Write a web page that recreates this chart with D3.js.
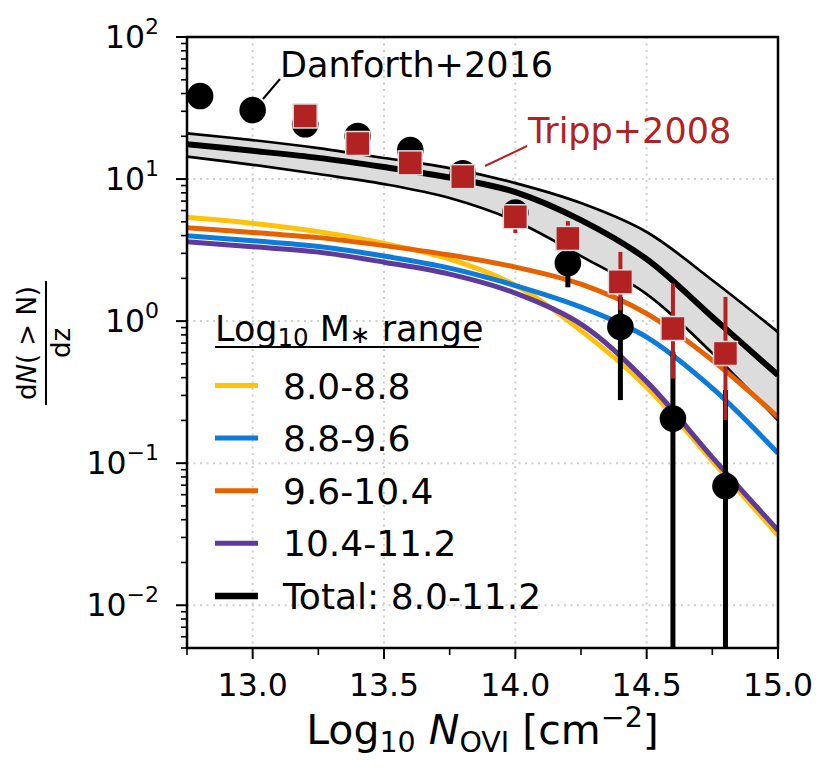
<!DOCTYPE html>
<html>
<head>
<meta charset="utf-8">
<script src="https://cdn.jsdelivr.net/npm/d3@7"></script>
<style>
  body { margin: 0; background: #fff; }
  svg text { font-family: "DejaVu Sans", sans-serif; }
</style>
</head>
<body>
<svg id="chart" width="831" height="770"></svg>
<script>
// ---- data ----
var modelX      = [12.75, 13.0, 13.25, 13.5, 13.75, 14.0, 14.25, 14.5, 14.75, 15.0];
var totalY      = [17.6, 15.8, 14.1, 12.15, 10.25, 8.10, 5.14, 2.73, 1.07, 0.417];
var totalHi     = [21.0, 18.8, 16.5, 14.06, 11.95, 9.37, 6.78, 4.24, 1.94, 0.837];
var totalLo     = [14.4, 12.6, 10.85, 9.22, 7.35, 5.06, 2.87, 1.55, 0.595, 0.20];
var mass1Y      = [5.375, 4.875, 4.256, 3.525, 2.73, 1.79, 0.857, 0.343, 0.1033, 0.0311];
var mass2Y      = [3.99, 3.68, 3.35, 2.87, 2.36, 1.78, 1.255, 0.772, 0.3375, 0.1175];
var mass3Y      = [4.54, 4.21, 3.87, 3.40, 2.92, 2.40, 1.82, 1.13, 0.531, 0.211];
var mass4Y      = [3.62, 3.34, 3.06, 2.60, 2.14, 1.575, 0.953, 0.375, 0.110, 0.0337];

var massLabels  = ["8.0-8.8", "8.8-9.6", "9.6-10.4", "10.4-11.2", "Total: 8.0-11.2"];
var massColors  = ["#FFC20A", "#0C7BDC", "#E66100", "#5D3A9B", "#000000"];

var danforthX   = [12.8, 13.0, 13.2, 13.4, 13.6, 13.8, 14.0, 14.2, 14.4, 14.6, 14.8];
var danforthY   = [38.4, 30.6, 24.3, 20.1, 16.0, 11.0, 5.8, 2.56, 0.91, 0.206, 0.069];
var danforthLo  = [36.0, 28.5, 22.5, 18.8, 15.0, 10.2, 5.2, 1.73, 0.278, 0.001, 0.001];
var danforthHi  = [41.0, 33.0, 26.0, 21.5, 17.0, 11.8, 6.4, 3.3, 1.48, 0.608, 0.327];

var trippX      = [13.2, 13.4, 13.6, 13.8, 14.0, 14.2, 14.4, 14.6, 14.8];
var trippY      = [27.8, 17.8, 13.0, 10.4, 5.43, 3.82, 1.89, 0.887, 0.592];
var trippLo     = [26.0, 16.5, 12.0, 9.6, 4.17, 3.2, 1.19, 0.394, 0.201];
var trippHi     = [30.0, 19.0, 14.0, 11.2, 6.5, 5.06, 3.07, 1.84, 1.48];

var xTicks      = [13.0, 13.5, 14.0, 14.5, 15.0];
var xMinor      = [12.75, 13.25, 13.75, 14.25, 14.75];
var yTicks      = [-2, -1, 0, 1, 2];

// ---- layout ----
var M = {left: 187, right: 778, top: 37, bottom: 648};
var svg = d3.select("#chart");

var x = d3.scaleLinear().domain([12.75, 15.0]).range([M.left, M.right]);
var y = d3.scaleLog().domain([5e-3, 100]).range([M.bottom, M.top]);

svg.append("defs").append("clipPath").attr("id", "plotClip")
	.append("rect")
	.attr("x", M.left).attr("y", M.top)
	.attr("width", M.right - M.left).attr("height", M.bottom - M.top);

// grid
var grid = svg.append("g").attr("class", "grid");
xTicks.slice(0, 4).forEach(function(t) {
	grid.append("line")
		.attr("x1", x(t)).attr("x2", x(t)).attr("y1", M.top).attr("y2", M.bottom)
		.attr("stroke", "#cfcfcf").attr("stroke-width", 2).attr("stroke-dasharray", "2,4.5");
});
yTicks.slice(0, 4).forEach(function(e) {
	grid.append("line")
		.attr("x1", M.left).attr("x2", M.right).attr("y1", y(Math.pow(10, e))).attr("y2", y(Math.pow(10, e)))
		.attr("stroke", "#cfcfcf").attr("stroke-width", 2).attr("stroke-dasharray", "2,4.5");
});

var plot = svg.append("g").attr("clip-path", "url(#plotClip)");

var idx = d3.range(modelX.length);
var curve = d3.curveCatmullRom.alpha(0.5);

// shaded band around the total
var band = d3.area()
	.x(function(i) { return x(modelX[i]); })
	.y0(function(i) { return y(totalLo[i]); })
	.y1(function(i) { return y(totalHi[i]); })
	.curve(curve);
plot.append("path").attr("d", band(idx)).attr("fill", "#dcdcdc").attr("stroke", "none");

function lineOf(arr) {
	return d3.line()
		.x(function(i) { return x(modelX[i]); })
		.y(function(i) { return y(arr[i]); })
		.curve(curve)(idx);
}

plot.append("path").attr("d", lineOf(totalHi)).attr("fill", "none").attr("stroke", "#000").attr("stroke-width", 2.7);
plot.append("path").attr("d", lineOf(totalLo)).attr("fill", "none").attr("stroke", "#000").attr("stroke-width", 2.7);
plot.append("path").attr("d", lineOf(totalY)).attr("fill", "none").attr("stroke", "#000").attr("stroke-width", 6);

// mass bins: yellow, blue, orange, purple
[mass1Y, mass2Y, mass3Y, mass4Y].forEach(function(arr, k) {
	plot.append("path").attr("d", lineOf(arr))
		.attr("fill", "none")
		.attr("stroke", massColors[k])
		.attr("stroke-width", 5);
});

// Danforth+2016
danforthX.forEach(function(d, i) {
	plot.append("line")
		.attr("x1", x(d)).attr("x2", x(d))
		.attr("y1", y(danforthLo[i])).attr("y2", y(danforthHi[i]))
		.attr("stroke", "#000").attr("stroke-width", 5);
});
danforthX.forEach(function(d, i) {
	plot.append("circle")
		.attr("cx", x(d)).attr("cy", y(danforthY[i])).attr("r", 13.3)
		.attr("fill", "#000");
});

// Tripp+2008
trippX.forEach(function(d, i) {
	plot.append("line")
		.attr("x1", x(d)).attr("x2", x(d))
		.attr("y1", y(trippLo[i])).attr("y2", y(trippHi[i]))
		.attr("stroke", "#b22222").attr("stroke-width", 4);
});
var SQ = 24;
trippX.forEach(function(d, i) {
	plot.append("rect")
		.attr("x", x(d) - SQ / 2).attr("y", y(trippY[i]) - SQ / 2)
		.attr("width", SQ).attr("height", SQ)
		.attr("fill", "#b22222")
		.attr("stroke", "#dddddd").attr("stroke-width", 1.5);
});

// annotations
svg.append("line").attr("x1", 263).attr("y1", 99).attr("x2", 280).attr("y2", 79)
	.attr("stroke", "#000").attr("stroke-width", 2);
svg.append("text").attr("x", 280).attr("y", 77)
	.attr("font-size", 35).attr("fill", "#000").text("Danforth+2016");

svg.append("line").attr("x1", 485).attr("y1", 166).attr("x2", 527).attr("y2", 146)
	.attr("stroke", "#b22222").attr("stroke-width", 2);
svg.append("text").attr("x", 528).attr("y", 143)
	.attr("font-size", 35).attr("fill", "#b22222").text("Tripp+2008");

// spines
svg.append("rect")
	.attr("x", M.left).attr("y", M.top)
	.attr("width", M.right - M.left).attr("height", M.bottom - M.top)
	.attr("fill", "none").attr("stroke", "#000").attr("stroke-width", 2.5);

// x ticks
var axes = svg.append("g");
xTicks.forEach(function(t) {
	axes.append("line").attr("x1", x(t)).attr("x2", x(t)).attr("y1", M.bottom).attr("y2", M.bottom + 11)
		.attr("stroke", "#000").attr("stroke-width", 2);
	axes.append("text").attr("x", x(t)).attr("y", 696)
		.attr("text-anchor", "middle").attr("font-size", 31.5).text(d3.format(".1f")(t));
});
xMinor.forEach(function(t) {
	axes.append("line").attr("x1", x(t)).attr("x2", x(t)).attr("y1", M.bottom).attr("y2", M.bottom + 7)
		.attr("stroke", "#000").attr("stroke-width", 1.6);
});

// y ticks
yTicks.forEach(function(e) {
	var v = Math.pow(10, e);
	axes.append("line").attr("x1", M.left - 11).attr("x2", M.left).attr("y1", y(v)).attr("y2", y(v))
		.attr("stroke", "#000").attr("stroke-width", 2);
	var t = axes.append("text").attr("x", 159).attr("y", y(v) + 11)
		.attr("text-anchor", "end").attr("font-size", 31.5);
	t.append("tspan").text("10");
	t.append("tspan").attr("dy", -14).attr("font-size", 22).text(e < 0 ? "\u2212" + (-e) : String(e));
});
for (var e = -3; e < 2; e++) {
	for (var m = 2; m < 10; m++) {
		var v = m * Math.pow(10, e);
		if (v < 5e-3 || v > 100) continue;
		axes.append("line").attr("x1", M.left - 6).attr("x2", M.left).attr("y1", y(v)).attr("y2", y(v))
			.attr("stroke", "#000").attr("stroke-width", 1.6);
	}
}

// axis labels
var xl = svg.append("text").attr("x", (M.left + M.right) / 2).attr("y", 744)
	.attr("text-anchor", "middle").attr("font-size", 41);
xl.append("tspan").text("Log");
xl.append("tspan").attr("font-size", 28.5).attr("dy", 8).text("10");
xl.append("tspan").attr("dy", -8).text(" ");
xl.append("tspan").attr("font-style", "italic").text("N");
xl.append("tspan").attr("font-size", 28.5).attr("dy", 8).text("OVI");
xl.append("tspan").attr("dy", -8).text(" [cm");
xl.append("tspan").attr("font-size", 28.5).attr("dy", -17).text("\u22122");
xl.append("tspan").attr("dy", 17).text("]");

var yl = svg.append("g").attr("transform", "translate(46,343) rotate(-90)");
var num = yl.append("text").attr("x", 0).attr("y", -10).attr("text-anchor", "middle").attr("font-size", 26);
num.append("tspan").text("d");
num.append("tspan").attr("font-style", "italic").text("N");
num.append("tspan").text("( > N)");
yl.append("line").attr("x1", -62).attr("x2", 62).attr("y1", 0).attr("y2", 0)
	.attr("stroke", "#000").attr("stroke-width", 2);
yl.append("text").attr("x", 0).attr("y", 24).attr("text-anchor", "middle").attr("font-size", 26).text("dz");

// legend
var lg = svg.append("g");
var title = lg.append("text").attr("x", 215).attr("y", 341).attr("font-size", 35);
title.append("tspan").text("Log");
title.append("tspan").attr("font-size", 24.5).attr("dy", 5).text("10");
title.append("tspan").attr("dy", -5).text(" M");
title.append("tspan").attr("font-size", 24.5).attr("dy", 2).text("\u2217");
title.append("tspan").attr("dy", -2).text(" range");
lg.append("line").attr("x1", 215).attr("x2", 479).attr("y1", 347).attr("y2", 347)
	.attr("stroke", "#000").attr("stroke-width", 2);

massLabels.forEach(function(lab, k) {
	var cy = 385.5 + k * 52.6;
	lg.append("line").attr("x1", 215).attr("x2", 258).attr("y1", cy).attr("y2", cy)
		.attr("stroke", massColors[k]).attr("stroke-width", k === 4 ? 6.5 : 5);
	lg.append("text").attr("x", 283).attr("y", cy + 13).attr("font-size", 36).text(lab);
});
</script>
</body>
</html>
